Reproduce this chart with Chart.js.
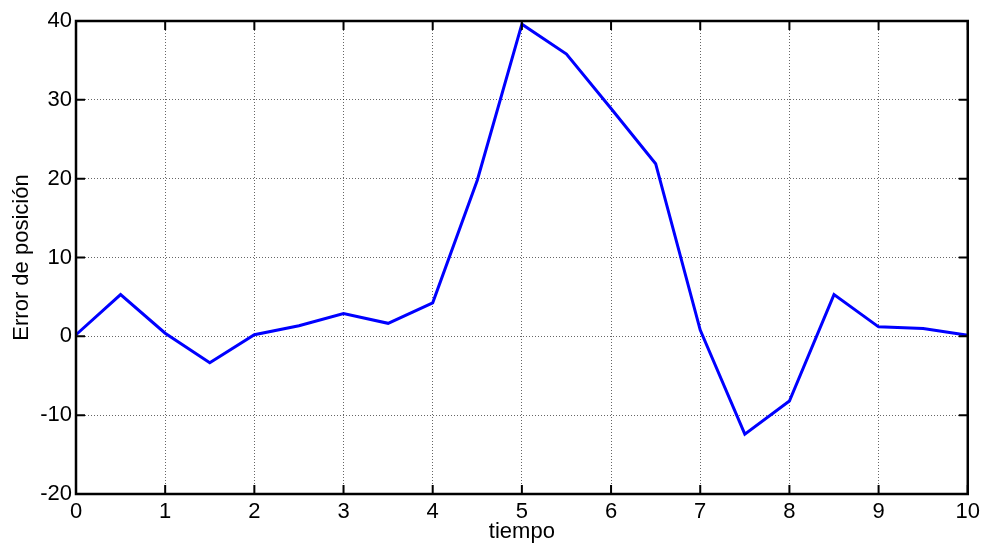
<!DOCTYPE html>
<html>
<head>
<meta charset="utf-8">
<script src="https://cdn.jsdelivr.net/npm/chart.js@4"></script>
<style>
  body { margin: 0; background: #fff; }
  canvas { display: block; }
</style>
</head>
<body>
<canvas id="myChart" width="985" height="545"></canvas>
<script>
// data
const tiempo = [0, 0.5, 1, 1.5, 2, 2.5, 3, 3.5, 4, 4.5, 5, 5.5, 6, 6.5, 7, 7.5, 8, 8.5, 9, 9.5, 10];
const errorPos = [0.2, 5.3, 0.4, -3.35, 0.2, 1.35, 2.9, 1.65, 4.25, 19.8, 39.6, 35.8, 28.9, 21.9, 0.8, -12.4, -8.2, 5.3, 1.2, 1.0, 0.15];
const xTicks = [0, 1, 2, 3, 4, 5, 6, 7, 8, 9, 10];
const yTicks = [-20, -10, 0, 10, 20, 30, 40];

const font = { family: "'Liberation Sans', Arial, sans-serif", size: 22 };

// MATLAB style box with inward ticks
const boxPlugin = {
  id: 'box',
  afterDraw(chart) {
    const { ctx, chartArea: a, scales } = chart;
    ctx.save();
    ctx.strokeStyle = '#000';
    ctx.lineWidth = 2;
    ctx.beginPath();
    xTicks.forEach(v => {
      const px = scales.x.getPixelForValue(v);
      ctx.moveTo(px, a.bottom); ctx.lineTo(px, a.bottom - 9);
      ctx.moveTo(px, a.top); ctx.lineTo(px, a.top + 9);
    });
    yTicks.forEach(v => {
      const py = scales.y.getPixelForValue(v);
      ctx.moveTo(a.left, py); ctx.lineTo(a.left + 9, py);
      ctx.moveTo(a.right, py); ctx.lineTo(a.right - 9, py);
    });
    ctx.stroke();
    ctx.lineWidth = 2.5;
    ctx.strokeRect(a.left, a.top, a.right - a.left, a.bottom - a.top);
    ctx.restore();
  }
};

const ctx = document.getElementById('myChart').getContext('2d');
const myChart = new Chart(ctx, {
  type: 'line',
  data: {
    datasets: [{
      data: tiempo.map((t, i) => ({ x: t, y: errorPos[i] })),
      borderColor: 'rgb(0, 0, 255)',
      borderWidth: 3,
      pointRadius: 0,
      fill: false,
      tension: 0,
      clip: false
    }]
  },
  options: {
    responsive: false,
    animation: false,
    devicePixelRatio: 1,
    layout: { padding: { left: 0, top: 21, right: 17, bottom: 0 } },
    plugins: {
      legend: { display: false },
      tooltip: { enabled: false }
    },
    scales: {
      x: {
        type: 'linear',
        min: 0,
        max: 10,
        afterFit: s => { s.height = 51; },
        afterBuildTicks: s => { s.ticks = xTicks.map(v => ({ value: v })); },
        ticks: { color: '#000', font: font, padding: 5, maxRotation: 0 },
        grid: { color: 'rgba(0,0,0,0.6)', lineWidth: 1, drawTicks: false },
        border: { display: false, dash: [1, 2] },
        title: { display: true, text: 'tiempo', color: '#000', font: font, padding: { top: 0, bottom: 0 } }
      },
      y: {
        min: -20,
        max: 40,
        afterFit: s => { s.width = 76; },
        afterBuildTicks: s => { s.ticks = yTicks.map(v => ({ value: v })); },
        ticks: { color: '#000', font: font, padding: 4 },
        grid: { color: 'rgba(0,0,0,0.6)', lineWidth: 1, drawTicks: false },
        border: { display: false, dash: [1, 2] },
        title: { display: true, text: 'Error de posición', color: '#000', font: font, padding: { top: 9, bottom: 0 } }
      }
    }
  },
  plugins: [boxPlugin]
});
</script>
</body>
</html>
